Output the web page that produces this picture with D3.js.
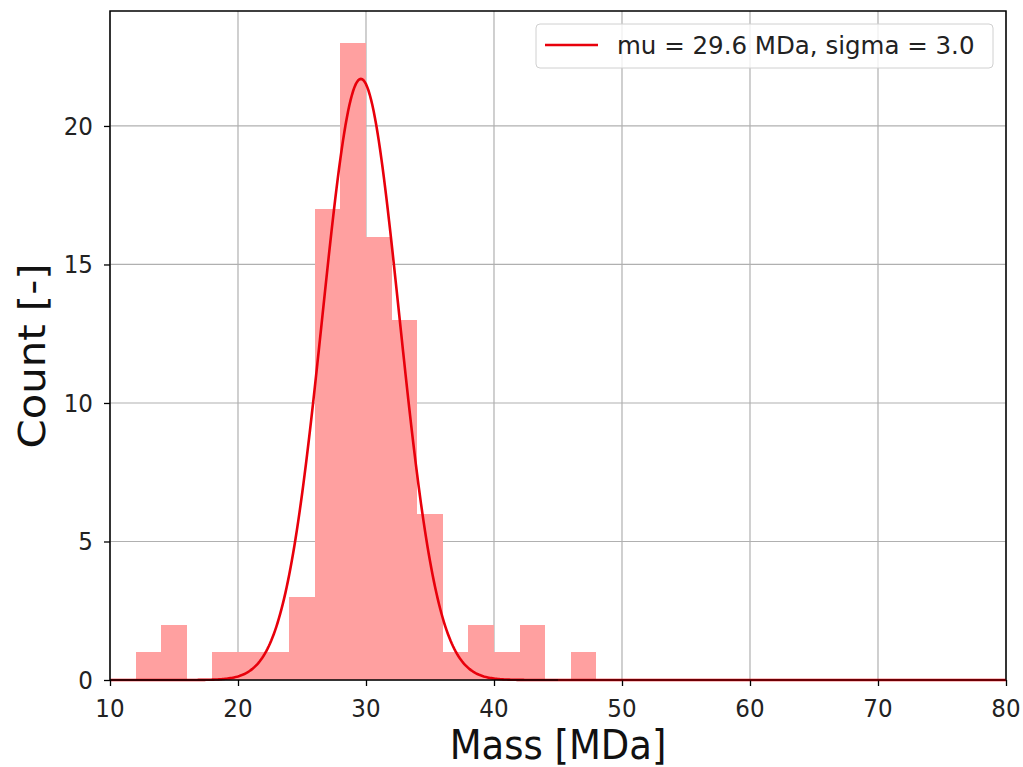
<!DOCTYPE html>
<html><head><meta charset="utf-8">
<script src="https://cdn.jsdelivr.net/npm/d3@7"></script>
<style>body{margin:0;background:#fff}svg{display:block}text{font-family:"DejaVu Sans",sans-serif}</style>
</head><body>
<script>
const binStarts = [12,14,16,18,20,22,24,26,28,30,32,34,36,38,40,42,44,46];
const binWidth = 2;
const counts = [1,2,0,1,1,1,3,17,23,16,13,6,1,2,1,2,0,1];
const fitMu = 29.6, fitSigma = 3.0, fitPeak = 21.7;
const xTicks = [10,20,30,40,50,60,70,80];
const yTicks = [0,5,10,15,20];
const legendLabel = "mu = 29.6 MDa, sigma = 3.0";

const W = 1023, H = 767;
const m = {l:110, r:1006, t:11, b:680};
const SY = 1.1; // vertical text stretch seen in the reference
const svg = d3.select("body").append("svg").attr("width", W).attr("height", H);
const x = d3.scaleLinear().domain([10,80]).range([m.l, m.r]);
const y = d3.scaleLinear().domain([0, 23*1.05]).range([m.b, m.t]);

// grid
svg.append("g").selectAll("line").data(xTicks).join("line")
  .attr("x1", d=>x(d)).attr("x2", d=>x(d)).attr("y1", m.t).attr("y2", m.b)
  .attr("stroke", "#b0b0b0").attr("stroke-width", 1.2);
svg.append("g").selectAll("line").data(yTicks).join("line")
  .attr("y1", d=>y(d)).attr("y2", d=>y(d)).attr("x1", m.l).attr("x2", m.r)
  .attr("stroke", "#b0b0b0").attr("stroke-width", 1.2);

// bars
svg.append("g").selectAll("rect").data(counts.map((c,i)=>({x0:binStarts[i], c})).filter(d=>d.c>0)).join("rect")
  .attr("x", d=>x(d.x0)).attr("width", d=>x(d.x0+binWidth)-x(d.x0))
  .attr("y", d=>y(d.c)).attr("height", d=>y(0)-y(d.c))
  .attr("fill", "#ffa0a0").attr("shape-rendering","crispEdges");

// fit curve
const xs = d3.range(10, 80.001, 0.1);
const line = d3.line().x(d=>x(d)).y(d=>y(fitPeak*Math.exp(-0.5*((d-fitMu)/fitSigma)**2)));
svg.append("path").datum(xs).attr("d", line).attr("fill","none").attr("stroke","#e8000b").attr("stroke-width",2.6);

// axes (tick marks from d3 axes, labels drawn with stretch)
const gx = svg.append("g").attr("transform", `translate(0,${m.b})`)
  .call(d3.axisBottom(x).tickValues(xTicks).tickSize(6).tickFormat(""));
const gy = svg.append("g").attr("transform", `translate(${m.l},0)`)
  .call(d3.axisLeft(y).tickValues(yTicks).tickSize(6).tickFormat(""));
[gx, gy].forEach(g=>{
  g.select(".domain").remove();
  g.selectAll("line").attr("stroke","#000").attr("stroke-width",1.3);
});
svg.append("g").selectAll("text").data(xTicks).join("text")
  .attr("transform", d=>`translate(${x(d)},717) scale(1,${SY})`)
  .attr("text-anchor","middle").attr("font-size",23).attr("fill","#222").text(d3.format("d"));
svg.append("g").selectAll("text").data(yTicks).join("text")
  .attr("transform", d=>`translate(93,${y(d)+9}) scale(1,${SY})`)
  .attr("text-anchor","end").attr("font-size",23).attr("fill","#222").text(d3.format("d"));

// frame
svg.append("rect").attr("x", m.l).attr("y", m.t).attr("width", m.r-m.l).attr("height", m.b-m.t)
  .attr("fill","none").attr("stroke","#000").attr("stroke-width",1.5);
svg.append("line").attr("x1", x(45)).attr("x2", m.r).attr("y1", m.b).attr("y2", m.b)
  .attr("stroke","#e8000b").attr("stroke-width",1.2).attr("opacity",0.6);

// labels
svg.append("text").attr("transform", `translate(558,759) scale(1,${SY})`).attr("text-anchor","middle")
  .attr("font-size", 37).attr("fill","#111").text("Mass [MDa]");
svg.append("text").attr("transform", `translate(45,356) scale(1,${SY}) rotate(-90)`).attr("text-anchor","middle")
  .attr("font-size", 38).attr("fill","#111").text("Count [-]");

// legend
const lg = svg.append("g");
lg.append("rect").attr("x", 536).attr("y", 24).attr("width", 457).attr("height", 44).attr("rx", 4)
  .attr("fill","#fff").attr("fill-opacity",0.8).attr("stroke","#d0d0d0");
lg.append("line").attr("x1", 545).attr("x2", 598).attr("y1", 45).attr("y2", 45)
  .attr("stroke","#e8000b").attr("stroke-width",2.6);
lg.append("text").attr("x", 617).attr("y", 54).attr("font-size", 24.5).attr("fill","#222").text(legendLabel);
</script>
</body></html>
